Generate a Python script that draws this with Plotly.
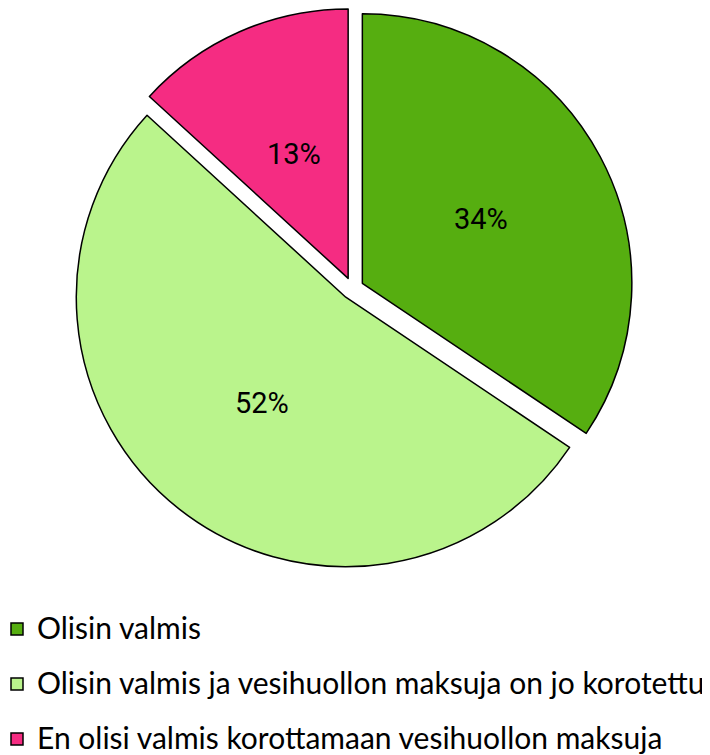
import math
import plotly.graph_objects as go

labels = ["Olisin valmis",
          "Olisin valmis ja vesihuollon maksuja on jo korotettu",
          "En olisi valmis korottamaan vesihuollon maksuja"]
values = [34.4, 52.4, 13.2]
text_labels = ["34%", "52%", "13%"]
colors = ["#56AE10", "#BAF48C", "#F52C82"]

W, H = 710, 755
OFF = 8  # page body margin
cx, cy, r_pie = 352.6 - OFF, 288 - OFF, 270
PULL = 0.041
R = r_pie * (1 + PULL)

span = '<span style="font-family:Lato;font-size:30px;baseline-shift:6px">'
legend_labels = [span + l + '</span>' for l in labels]

fig = go.Figure(go.Pie(
    labels=legend_labels,
    values=values,
    textinfo="none",
    marker=dict(colors=colors, line=dict(color="#000000", width=1.5)),
    sort=False,
    direction="clockwise",
    rotation=0,
    pull=[PULL] * len(values),
    domain=dict(x=[(cx - R) / W, (cx + R) / W],
                y=[1 - (cy + R) / H, min(1, 1 - (cy - R) / H)]),
    hoverinfo="skip",
))

# percentage labels placed at half radius along each slice's mid angle
total = sum(values)
cum = 0
annotations = []
for v, t in zip(values, text_labels):
    mid = (cum + v / 2) / total * 2 * math.pi
    cum += v
    dx, dy = math.sin(mid), -math.cos(mid)
    d = r_pie * PULL + 0.5 * r_pie
    annotations.append(dict(
        x=(cx + d * dx) / W, y=1 - (cy + d * dy) / H, xref="paper", yref="paper",
        text=t, showarrow=False,
        font=dict(family="Roboto", size=29, color="#000000"),
        xanchor="center", yanchor="middle",
    ))

fig.update_layout(
    width=W, height=H,
    margin=dict(l=0, r=0, t=0, b=0, autoexpand=False),
    paper_bgcolor="white", plot_bgcolor="white",
    showlegend=True,
    annotations=annotations,
    legend=dict(
        orientation="v",
        x=0, xanchor="left",
        y=1 - 588.5 / H, yanchor="top",
        indentation=-11,
        font=dict(family="Lato", size=40, color="#000000"),
        bgcolor="rgba(0,0,0,0)",
        borderwidth=0,
    ),
)

fig.write_html("out.html")
